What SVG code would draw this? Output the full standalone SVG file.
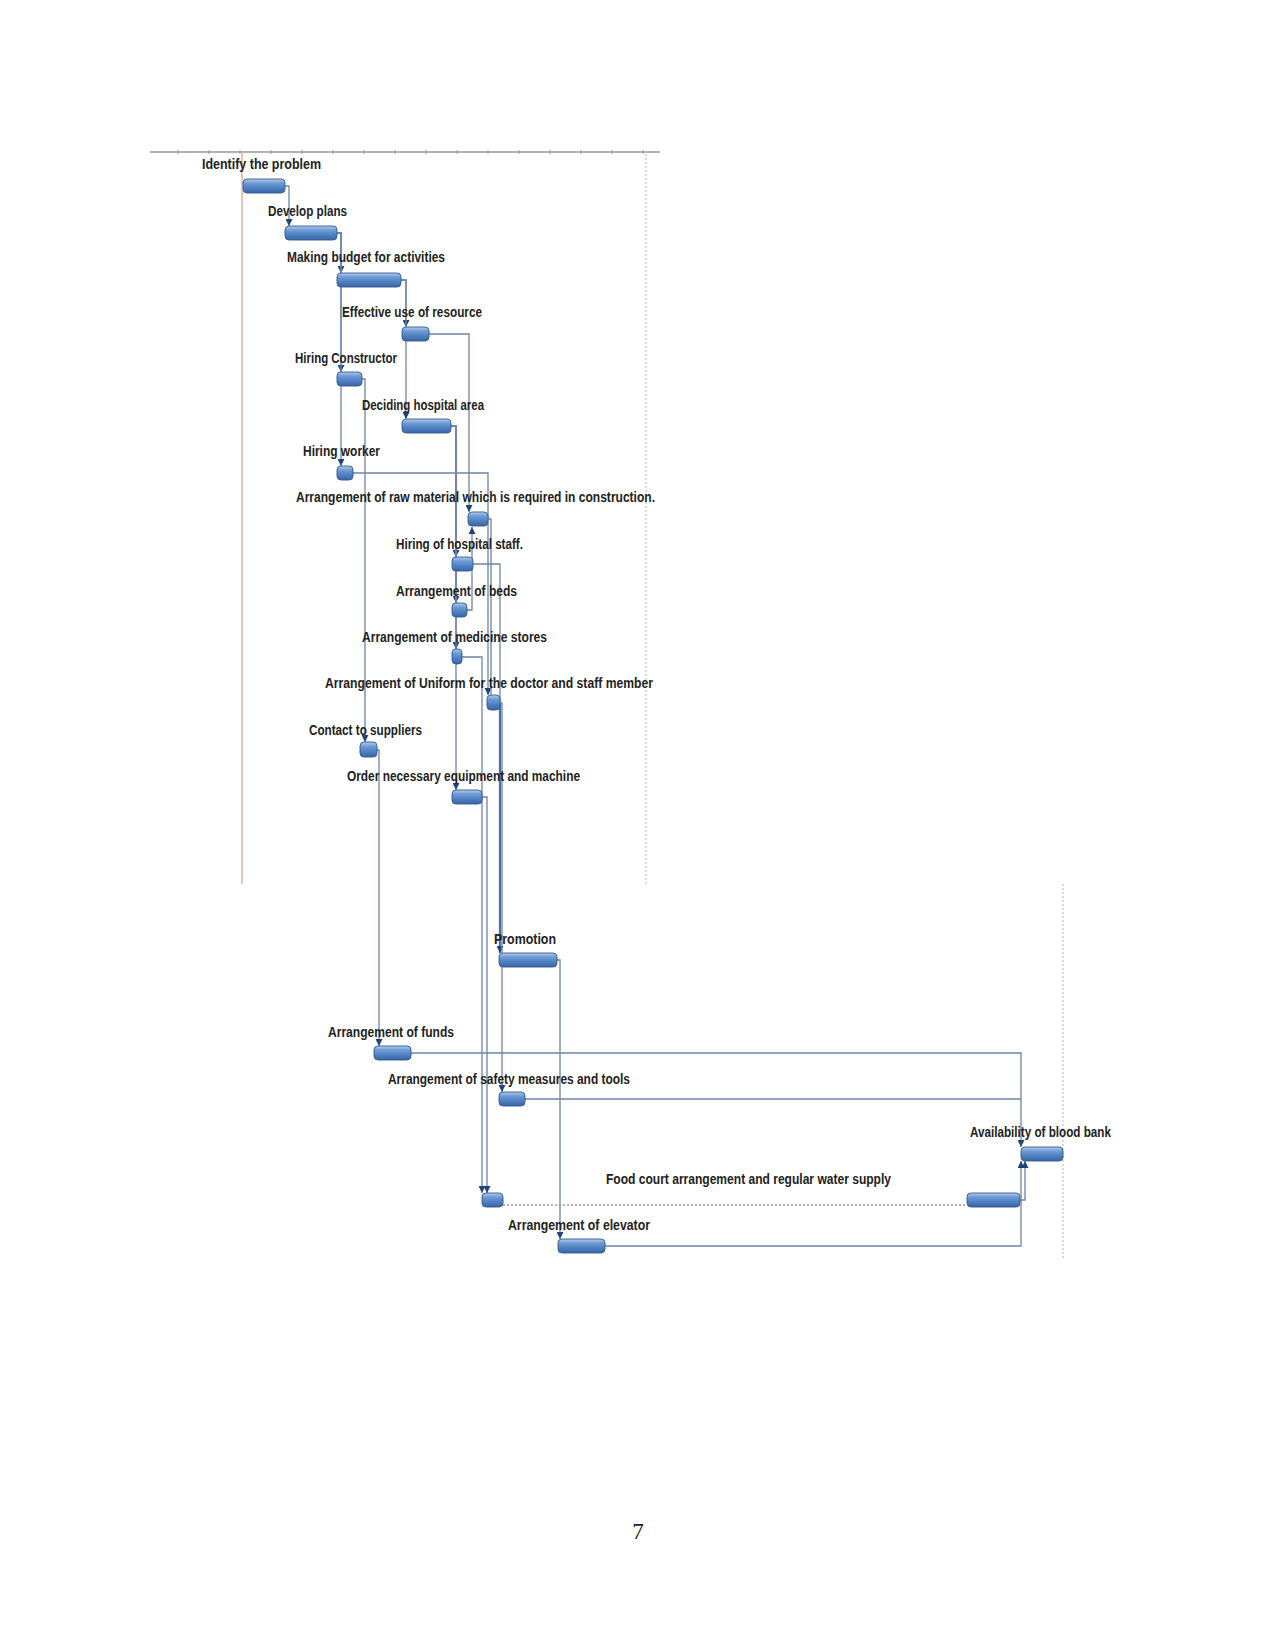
<svg xmlns="http://www.w3.org/2000/svg" width="1275" height="1651" viewBox="0 0 1275 1651">
<style>
.lbl{font-family:"Liberation Sans",Arial,sans-serif;font-weight:bold;font-size:14px;fill:#222222}
.bar{fill:url(#barg);stroke:#325a8e;stroke-width:0.9}
.con{fill:none;stroke:#6f84a6;stroke-width:1.3}
.heavy{stroke:#4d6fa3;stroke-width:2.3}
.dn{marker-end:url(#arr)}
.frame{stroke:#9a9a9a;stroke-width:1.5}
.tick{stroke:#9a9a9a;stroke-width:1}
.dot{stroke:#b5b5b5;stroke-width:1;stroke-dasharray:2 2}
</style>
<defs>
<linearGradient id="barg" x1="0" y1="0" x2="0" y2="1">
<stop offset="0" stop-color="#b3cdee"/>
<stop offset="0.3" stop-color="#6d9ad4"/>
<stop offset="0.7" stop-color="#4a7bbd"/>
<stop offset="1" stop-color="#3a66a2"/>
</linearGradient>
<marker id="arr" viewBox="0 0 8 8" refX="8" refY="4" markerWidth="7" markerHeight="7" markerUnits="userSpaceOnUse" orient="auto">
<path d="M0,0 L8,4 L0,8 z" fill="#20447a"/>
</marker>
</defs>
<rect width="1275" height="1651" fill="#ffffff"/>
<g id="timescale">
<line class="frame" x1="150" y1="152" x2="660" y2="152"/>
<path class="tick" d="M178,150V154M209,150V154M240,150V154M271,150V154M302,150V154M333,150V154M364,150V154M395,150V154M426,150V154M457,150V154M488,150V154M519,150V154M550,150V154M581,150V154M612,150V154M643,150V154"/>
<line x1="242" y1="152" x2="242" y2="884" stroke="#e2a68c" stroke-width="1.3"/>
<line class="dot" x1="646" y1="154" x2="646" y2="884"/>
<line class="dot" x1="1063" y1="884" x2="1063" y2="1258"/>
</g>
<g id="connectors">
<path class="con dn" d="M285,186H289V226"/>
<path class="con dn" d="M337,233H341V273"/>
<path class="con dn" d="M337,233H341V372"/>
<path class="con dn" d="M337,233H341V466"/>
<path class="con dn" d="M401,280H406V327"/>
<path class="con dn" d="M401,280H406V419"/>
<path class="con dn" d="M429,334H469V512"/>
<path class="con dn" d="M362,379H365V742"/>
<path class="con dn" d="M451,426H456V557"/>
<path class="con dn" d="M451,426H456V603"/>
<path class="con dn" d="M451,426H456V649"/>
<path class="con dn" d="M451,426H456V790"/>
<path class="con dn" d="M353,473H488V695"/>
<path class="con" d="M488,519H491V695"/>
<path class="con dn" d="M467,610H472V527"/>
<path class="con" d="M473,564H500V703"/>
<path class="con heavy dn" d="M500,703V953"/>
<path class="con dn" d="M500,703H502V1092"/>
<path class="con dn" d="M462,657H482V1193"/>
<path class="con dn" d="M482,797H487V1193"/>
<path class="con dn" d="M377,750H379V1046"/>
<path class="con dn" d="M557,960H560V1239"/>
<path class="con dn" d="M411,1053H1021V1147"/>
<path class="con" d="M525,1099H1021"/>
<path class="con dn" d="M605,1246H1021V1161"/>
<path class="con dn" d="M1020,1200H1025V1161"/>
<line x1="503" y1="1205" x2="967" y2="1205" stroke="#9a90dc" stroke-width="1.6" stroke-dasharray="2 2"/>
</g>
<g id="n1"><rect class="bar" x="243" y="179" width="42" height="14" rx="4"/><text class="lbl" x="202" y="169" textLength="119" lengthAdjust="spacingAndGlyphs">Identify the problem</text></g>
<g id="n2"><rect class="bar" x="285" y="226" width="52" height="14" rx="4"/><text class="lbl" x="268" y="216" textLength="79" lengthAdjust="spacingAndGlyphs">Develop plans</text></g>
<g id="n3"><rect class="bar" x="337" y="273" width="64" height="14" rx="4"/><text class="lbl" x="287" y="262" textLength="158" lengthAdjust="spacingAndGlyphs">Making budget for activities</text></g>
<g id="n4"><rect class="bar" x="402" y="327" width="27" height="14" rx="4"/><text class="lbl" x="342" y="317" textLength="140" lengthAdjust="spacingAndGlyphs">Effective use of resource</text></g>
<g id="n5"><rect class="bar" x="337" y="372" width="25" height="14" rx="4"/><text class="lbl" x="295" y="363" textLength="102" lengthAdjust="spacingAndGlyphs">Hiring Constructor</text></g>
<g id="n6"><rect class="bar" x="402" y="419" width="49" height="14" rx="4"/><text class="lbl" x="362" y="410" textLength="122" lengthAdjust="spacingAndGlyphs">Deciding hospital area</text></g>
<g id="n7"><rect class="bar" x="337" y="466" width="16" height="14" rx="4"/><text class="lbl" x="303" y="456" textLength="77" lengthAdjust="spacingAndGlyphs">Hiring worker</text></g>
<g id="n8"><rect class="bar" x="468" y="512" width="20" height="14" rx="4"/><text class="lbl" x="296" y="502" textLength="359" lengthAdjust="spacingAndGlyphs">Arrangement of raw material which is required in construction.</text></g>
<g id="n9"><rect class="bar" x="452" y="557" width="21" height="14" rx="4"/><text class="lbl" x="396" y="549" textLength="127" lengthAdjust="spacingAndGlyphs">Hiring of hospital staff.</text></g>
<g id="n10"><rect class="bar" x="452" y="603" width="15" height="14" rx="4"/><text class="lbl" x="396" y="596" textLength="121" lengthAdjust="spacingAndGlyphs">Arrangement of beds</text></g>
<g id="n11"><rect class="bar" x="452" y="649" width="10" height="15" rx="4"/><text class="lbl" x="362" y="642" textLength="185" lengthAdjust="spacingAndGlyphs">Arrangement of medicine stores</text></g>
<g id="n12"><rect class="bar" x="487" y="695" width="13" height="15" rx="4"/><text class="lbl" x="325" y="688" textLength="328" lengthAdjust="spacingAndGlyphs">Arrangement of Uniform for the doctor and staff member</text></g>
<g id="n13"><rect class="bar" x="360" y="742" width="17" height="15" rx="4"/><text class="lbl" x="309" y="735" textLength="113" lengthAdjust="spacingAndGlyphs">Contact to suppliers</text></g>
<g id="n14"><rect class="bar" x="452" y="790" width="30" height="14" rx="4"/><text class="lbl" x="347" y="781" textLength="233" lengthAdjust="spacingAndGlyphs">Order necessary equipment and machine</text></g>
<g id="n15"><rect class="bar" x="499" y="953" width="58" height="14" rx="4"/><text class="lbl" x="494" y="944" textLength="62" lengthAdjust="spacingAndGlyphs">Promotion</text></g>
<g id="n16"><rect class="bar" x="374" y="1046" width="37" height="14" rx="4"/><text class="lbl" x="328" y="1037" textLength="126" lengthAdjust="spacingAndGlyphs">Arrangement of funds</text></g>
<g id="n17"><rect class="bar" x="499" y="1092" width="26" height="14" rx="4"/><text class="lbl" x="388" y="1084" textLength="242" lengthAdjust="spacingAndGlyphs">Arrangement of safety measures and tools</text></g>
<g id="n18"><rect class="bar" x="1021" y="1147" width="42" height="14" rx="4"/><text class="lbl" x="970" y="1137" textLength="141" lengthAdjust="spacingAndGlyphs">Availability of blood bank</text></g>
<g id="n19"><rect class="bar" x="482" y="1193" width="21" height="14" rx="4"/><rect class="bar" x="967" y="1193" width="53" height="14" rx="4"/><text class="lbl" x="606" y="1184" textLength="285" lengthAdjust="spacingAndGlyphs">Food court arrangement and regular water supply</text></g>
<g id="n20"><rect class="bar" x="558" y="1239" width="47" height="14" rx="4"/><text class="lbl" x="508" y="1230" textLength="142" lengthAdjust="spacingAndGlyphs">Arrangement of elevator</text></g>
<text x="638" y="1539" text-anchor="middle" font-family="'Liberation Serif','Times New Roman',serif" font-size="23" fill="#222">7</text>
</svg>
